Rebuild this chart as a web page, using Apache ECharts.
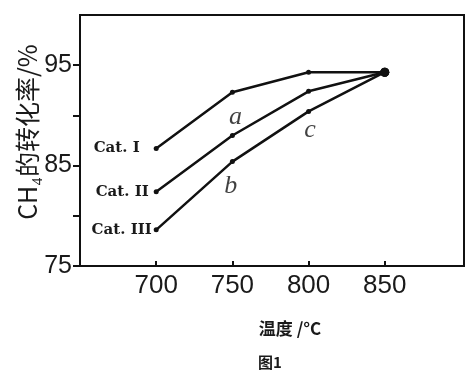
<!DOCTYPE html>
<html>
<head>
<meta charset="utf-8">
<script src="https://cdn.jsdelivr.net/npm/echarts@6/dist/echarts.min.js"></script>
<style>html,body{margin:0;padding:0;background:#fff}#c{width:466px;height:378px}</style>
</head>
<body>
<div id="c"></div>
<script>
const temperatures = [700, 750, 800, 850];
const xTickLabels = [700, 750, 800, 850];
const yTickValues = [75, 80, 85, 90, 95];
const yTickLabels = [75, 85, 95];
const seriesNames = ['Cat. I', 'Cat. II', 'Cat. III'];
const catI = [86.7, 92.3, 94.3, 94.3];
const catII = [82.4, 88.0, 92.4, 94.3];
const catIII = [78.6, 85.4, 90.4, 94.3];
const curveLetters = ['a', 'b', 'c'];
const letterPositions = [[752, 89.8], [749, 83.0], [801, 88.5]];

const chart = echarts.init(document.getElementById('c'), null, {renderer: 'canvas'});
const allSeries = [catI, catII, catIII];
const labelDist = [14, 5, 2];

const lineSeries = allSeries.map((vals, i) => ({
  type: 'line',
  name: seriesNames[i],
  data: temperatures.map((t, j) => ({
    value: [t, vals[j]],
    label: j === 0 ? {
      show: true, position: 'left', distance: labelDist[i],
      formatter: seriesNames[i],
      fontFamily: 'DejaVu Serif', fontWeight: 'bold', fontSize: 15, color: '#1a1a1a'
    } : {show: false}
  })),
  symbol: 'circle',
  symbolSize: (v, p) => p.dataIndex === 3 ? 9 : 5,
  itemStyle: {color: '#111'},
  lineStyle: {color: '#111', width: 2.5},
  animation: false,
  z: 3
}));

const letterSeries = {
  type: 'scatter',
  data: letterPositions.map((p, i) => ({value: p, name: curveLetters[i]})),
  symbolSize: 0,
  label: {
    show: true, position: 'inside', formatter: '{b}',
    fontFamily: 'Liberation Serif', fontStyle: 'italic', fontSize: 26, color: '#111'
  },
  silent: true,
  animation: false
};

chart.setOption({
  animation: false,
  grid: {left: 80, right: 2, top: 15, bottom: 112, show: true, borderColor: '#111', borderWidth: 2},
  xAxis: {
    type: 'value', min: 650, max: 902,
    axisLine: {show: true, lineStyle: {color: '#111', width: 2}},
    axisTick: {show: true, inside: true, length: 5, customValues: xTickLabels, lineStyle: {color: '#111', width: 2}},
    axisLabel: {customValues: xTickLabels, fontFamily: 'Liberation Sans', fontSize: 26, color: '#1a1a1a', margin: 7},
    splitLine: {show: false}
  },
  yAxis: {
    type: 'value', min: 75, max: 100,
    axisLine: {show: true, lineStyle: {color: '#111', width: 2}},
    axisTick: {show: true, inside: false, length: 7, customValues: yTickValues, lineStyle: {color: '#111', width: 2}},
    axisLabel: {customValues: yTickLabels, fontFamily: 'Liberation Sans', fontSize: 25, color: '#1a1a1a', margin: 8},
    splitLine: {show: false}
  },
  graphic: [
    {type: 'text', x: 27, y: 132, rotation: Math.PI / 2,
     style: {text: 'CH₄的转化率/%', fontFamily: 'Noto Sans CJK SC', fontSize: 25, fill: '#1a1a1a', align: 'center', verticalAlign: 'middle'}},
    {type: 'text', x: 290, y: 329,
     style: {text: '温度 /°C', fontFamily: 'Noto Sans CJK SC', fontWeight: 'bold', fontSize: 17, fill: '#1a1a1a', align: 'center', verticalAlign: 'middle'}},
    {type: 'text', x: 270, y: 362,
     style: {text: '图1', fontFamily: 'Noto Sans CJK SC', fontWeight: 'bold', fontSize: 15, fill: '#1a1a1a', align: 'center', verticalAlign: 'middle'}}
  ],
  series: [...lineSeries, letterSeries]
});
</script>
</body>
</html>
